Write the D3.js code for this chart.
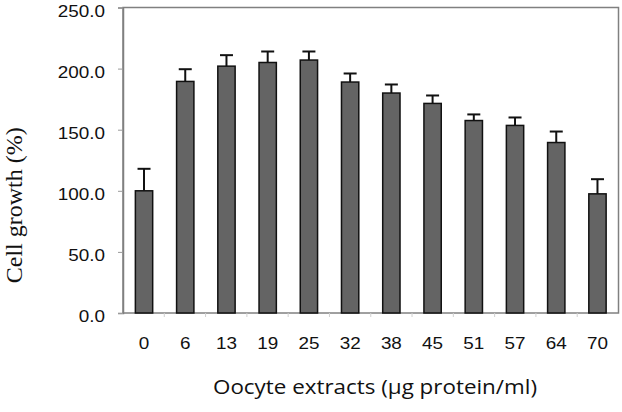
<!DOCTYPE html>
<html><head><meta charset="utf-8">
<script src="https://cdn.jsdelivr.net/npm/d3@7"></script>
<style>body{margin:0;background:#fff}svg{display:block}</style>
</head><body>
<script>
const categories = ["0","6","13","19","25","32","38","45","51","57","64","70"];
const values = [100, 189.5, 202, 205, 207, 189, 180, 171.5, 157.5, 153.5, 139.5, 97.5];
const errors = [18, 10, 9, 9, 7, 7, 7, 6.5, 5, 6.5, 9, 12];
const yTicks = [0, 50, 100, 150, 200, 250];

const W = 622, H = 412;
const m = {l: 123, r: 3.5, t: 7.5, b: 99};
const sx = 1.18;
const svg = d3.select("body").append("svg").attr("width", W).attr("height", H);
const x = d3.scaleBand().domain(categories).range([m.l, W - m.r]).paddingInner(0.58).paddingOuter(0.3);
const xb = d3.scaleBand().domain(categories).range([m.l, W - m.r]);
const y = d3.scaleLinear().domain([0, 250]).range([H - m.b, m.t]);

// frame
svg.append("rect").attr("x", m.l).attr("y", m.t).attr("width", W - m.r - m.l).attr("height", H - m.b - m.t)
  .attr("fill", "none").attr("stroke", "#808080").attr("stroke-width", 1.5);

// y axis
const ya = svg.append("g").attr("transform", `translate(${m.l},0)`)
  .call(d3.axisLeft(y).tickValues(yTicks).tickFormat(d3.format(".1f")).tickSize(5).tickPadding(12));
ya.select(".domain").attr("stroke", "#808080").attr("stroke-width", 1.5);
ya.selectAll(".tick line").attr("stroke", "#9a9a9a");
ya.selectAll("text").attr("font-family", "Liberation Sans, Arial, sans-serif").attr("font-size", 16).attr("fill", "#111")
  .attr("x", -18 / sx).attr("y", 3.5).attr("transform", `scale(${sx},1)`);

// x axis
const xa = svg.append("g").attr("transform", `translate(0,${H - m.b})`)
  .call(d3.axisBottom(x).tickSize(0).tickPadding(25));
xa.select(".domain").remove();
xa.selectAll("text").attr("font-family", "Liberation Sans, Arial, sans-serif").attr("font-size", 16).attr("fill", "#111")
  .attr("transform", `scale(${sx},1)`);
xa.selectAll(".tick").each(function(d) {
  const cx = x(d) + x.bandwidth() / 2;
  d3.select(this).attr("transform", `translate(${cx},0)`);
});
svg.append("g").selectAll("line").data(categories.slice(1)).join("line")
  .attr("x1", d => xb(d)).attr("x2", d => xb(d))
  .attr("y1", H - m.b).attr("y2", H - m.b + 4).attr("stroke", "#d0d0d0");

// error bars
const bw = x.bandwidth();
const eg = svg.append("g").attr("stroke", "#111").attr("stroke-width", 2);
categories.forEach((c, i) => {
  const cx = x(c) + bw / 2;
  eg.append("line").attr("x1", cx).attr("x2", cx).attr("y1", y(values[i])).attr("y2", y(values[i] + errors[i]));
  eg.append("line").attr("x1", cx - 6.5).attr("x2", cx + 6.5).attr("y1", y(values[i] + errors[i])).attr("y2", y(values[i] + errors[i]));
});

// bars
svg.append("g").selectAll("rect").data(values).join("rect")
  .attr("x", (d, i) => x(categories[i])).attr("width", bw)
  .attr("y", d => y(d)).attr("height", d => y(0) - y(d))
  .attr("fill", "#646464").attr("stroke", "#111").attr("stroke-width", 1.5);

// titles
svg.append("text").attr("transform", `translate(22,${(m.t + H - m.b) / 2 + 45}) rotate(-90)`)
  .attr("text-anchor", "middle").attr("font-family", "Liberation Serif, Times New Roman, serif")
  .attr("font-size", 24).attr("fill", "#111").text("Cell growth (%)");
svg.append("text").attr("transform", `translate(375,394) scale(1.12,1)`).attr("text-anchor", "middle")
  .attr("font-family", "Open Sans, DejaVu Sans, sans-serif").attr("font-size", 20).attr("fill", "#111")
  .text("Oocyte extracts (μg protein/ml)");
</script>
</body></html>
